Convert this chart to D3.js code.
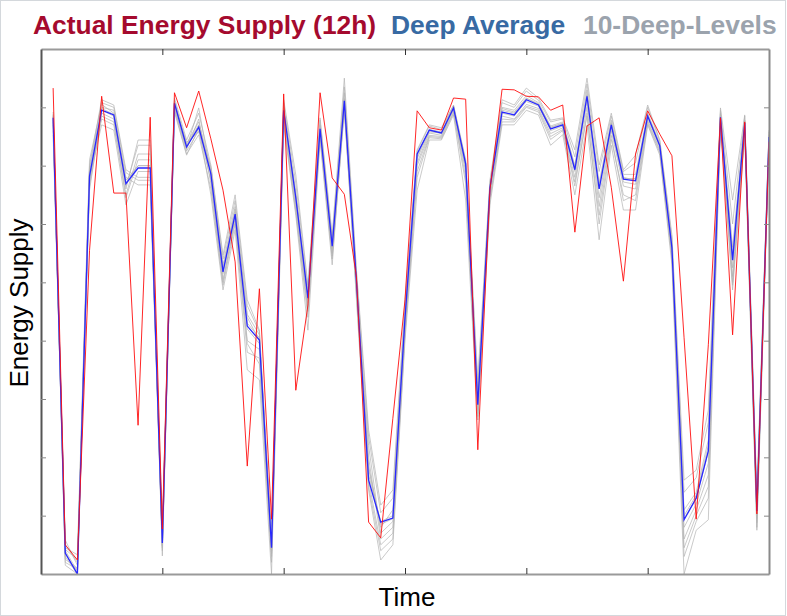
<!DOCTYPE html>
<html><head><meta charset="utf-8">
<script src="https://cdn.jsdelivr.net/npm/d3@7"></script>
<style>body{margin:0;background:#fff}svg{display:block}</style>
</head><body><svg id="c" width="787" height="616"></svg>
<script>
const timeIndex = [1,2,3,4,5,6,7,8,9,10,11,12,13,14,15,16,17,18,19,20,21,22,23,24,25,26,27,28,29,30,31,32,33,34,35,36,37,38,39,40,41,42,43,44,45,46,47,48,49,50,51,52,53,54,55,56,57,58,59,60];
const actualSupply = [833,50,24,555,819,653,653,255,783,77,825,765,828,746,658,535,185,489,94,823,315,461,825,679,651,509,89,62,267,470,794,765,761,816,814,213,658,831,830,819,818,795,804,586,768,782,663,502,720,794,754,717,405,94,393,782,410,775,103,741];
const deepAverage = [782,36,0,682,795,787,669,696,696,53,807,732,766,686,518,617,425,401,45,795,645,473,763,562,811,501,161,89,96,439,720,761,756,799,703,290,662,792,787,813,804,763,770,693,819,660,770,677,674,785,734,559,93,130,211,783,538,773,108,749];
const deepLevel1 = [788,40,5,690,800,795,675,700,700,55,810,735,770,690,520,620,430,405,45,795,645,475,765,565,810,500,170,90,100,440,720,760,755,800,700,295,660,795,790,815,805,765,772,695,820,660,772,680,675,785,735,560,95,130,210,785,540,775,110,750];
const deepLevel2 = [780,30,0,675,790,780,660,744,744,45,800,725,760,675,505,605,400,385,35,785,630,455,755,550,800,490,200,60,80,420,700,752,750,795,690,280,650,785,780,805,798,755,765,680,800,630,760,665,660,778,728,550,60,110,170,778,510,765,95,742];
const deepLevel3 = [775,50,20,700,813,804,693,680,680,70,816,744,790,701,547,650,470,418,58,813,684,495,782,581,850,521,247,118,144,470,727,770,765,804,710,333,675,813,804,833,816,778,782,727,850,701,790,693,718,804,744,581,161,178,281,799,641,787,135,761];
const deepLevel4 = [792,25,10,665,785,775,650,720,720,31,795,720,753,660,495,600,380,370,20,775,620,440,750,540,795,480,150,40,60,410,680,748,746,790,670,270,645,775,775,800,792,745,760,665,790,600,745,650,640,772,722,540,30,90,130,772,495,758,80,738];
const deepLevel5 = [770,45,33,710,805,790,680,667,667,60,805,738,775,695,530,630,445,410,50,800,655,480,770,570,815,505,185,80,110,445,715,762,758,802,705,300,665,800,795,820,808,768,775,700,830,670,778,685,685,790,738,565,110,140,230,790,560,778,115,753];
const deepLevel6 = [784,35,2,680,770,761,633,690,690,50,792,718,765,650,487,590,350,333,0,770,615,418,744,530,805,470,144,24,50,401,658,744,744,787,641,264,633,770,770,795,787,735,753,650,770,573,735,624,624,770,718,530,0,75,93,770,487,753,75,735];
const deepLevel7 = [760,58,15,658,795,785,665,735,735,75,812,730,799,685,515,615,420,395,40,790,640,465,760,558,825,495,220,70,90,430,705,756,752,797,695,290,655,790,785,810,802,760,768,690,810,645,765,672,668,782,732,555,80,120,190,782,525,770,100,746];
const deepLevel8 = [778,20,8,695,808,800,688,675,675,40,808,740,758,698,540,640,460,415,55,808,670,490,778,575,835,515,235,105,130,460,725,768,762,803,708,320,670,808,800,828,812,775,780,715,840,690,785,690,705,800,742,575,140,165,260,795,600,785,130,758];
const deepLevel9 = [753,42,25,685,780,770,645,710,710,58,798,728,780,670,500,610,395,360,30,780,625,450,752,545,798,485,160,50,70,415,690,750,748,792,680,275,640,780,778,802,795,750,762,672,785,615,752,640,650,775,725,545,45,100,150,775,500,760,88,740];
const deepLevel10 = [786,15,0,672,798,788,670,700,700,48,806,733,768,688,525,625,440,400,48,798,650,470,768,562,812,502,180,85,95,438,712,758,756,799,702,298,662,798,792,816,806,766,773,698,822,665,774,678,678,788,736,562,100,135,220,788,550,776,112,751];
const deepLevels = [deepLevel1,deepLevel2,deepLevel3,deepLevel4,deepLevel5,deepLevel6,deepLevel7,deepLevel8,deepLevel9,deepLevel10];
const xTicks = [10,20,30,40,50];
const yTicks = [100,200,300,400,500,600,700,800];
const legendLabels = ["Actual Energy Supply (12h)","Deep Average","10-Deep-Levels"];

const FONT = '"Liberation Sans", Arial, Helvetica, sans-serif';
const svg = d3.select('#c');
const x = d3.scaleLinear().domain([0,60]).range([41,769]);
const y = d3.scaleLinear().domain([0,900]).range([574,49]);

svg.append('rect').attr('x',0.5).attr('y',0.5).attr('width',785).attr('height',615)
  .attr('fill','none').attr('stroke','#d4d8dc').attr('stroke-width',1);

svg.append('defs').append('clipPath').attr('id','clip').append('rect')
  .attr('x',41).attr('y',49).attr('width',728).attr('height',525);

const line = d3.line().x((d,i)=>x(timeIndex[i])).y(d=>y(d));
const g = svg.append('g').attr('clip-path','url(#clip)');
deepLevels.forEach(s=>{
  g.append('path').attr('d',line(s)).attr('fill','none')
   .attr('stroke','#b4b4b4').attr('stroke-width',1).attr('stroke-opacity',0.7);
});
g.append('path').attr('d',line(deepAverage)).attr('fill','none')
  .attr('stroke','#2828ff').attr('stroke-width',1.3);
g.append('path').attr('d',line(actualSupply)).attr('fill','none')
  .attr('stroke','#ff1010').attr('stroke-width',1).attr('stroke-opacity',0.9);

function styleAxis(sel, domainColor, tickColor){
  sel.select('.domain').attr('stroke',domainColor).attr('stroke-width',2);
  sel.selectAll('.tick line').attr('stroke',tickColor).attr('stroke-width',1);
  sel.selectAll('.tick text').remove();
}
svg.append('g').attr('transform','translate(0,574)')
  .call(d3.axisBottom(x).tickValues(xTicks).tickSize(-6).tickSizeOuter(0).tickFormat(''))
  .call(s=>styleAxis(s,'#9a9a9a','#333'));
svg.append('g').attr('transform','translate(0,49)')
  .call(d3.axisTop(x).tickValues(xTicks).tickSize(-6).tickSizeOuter(0).tickFormat(''))
  .call(s=>styleAxis(s,'#9a9a9a','#333'));
svg.append('g').attr('transform','translate(41,0)')
  .call(d3.axisLeft(y).tickValues(yTicks).tickSize(-5).tickSizeOuter(0).tickFormat(''))
  .call(s=>styleAxis(s,'#555','#888'));
svg.append('g').attr('transform','translate(769,0)')
  .call(d3.axisRight(y).tickValues(yTicks).tickSize(-5).tickSizeOuter(0).tickFormat(''))
  .call(s=>styleAxis(s,'#8a8a8a','#888'));

const legendX = [33,391,583];
const legendColors = ['#a50a2e','#386aa3','#9ba3ad'];
legendLabels.forEach((t,i)=>{
  svg.append('text').attr('x',legendX[i]).attr('y',34).text(t)
    .attr('font-family',FONT).attr('font-weight','bold').attr('font-size',26.4)
    .attr('fill',legendColors[i]);
});

svg.append('text').attr('transform','translate(28,303) rotate(-90)')
  .attr('text-anchor','middle').attr('font-family',FONT).attr('font-size',26)
  .attr('fill','#000').text('Energy Supply');
svg.append('text').attr('x',407).attr('y',606).attr('text-anchor','middle')
  .attr('font-family',FONT).attr('font-size',26).attr('fill','#000').text('Time');
</script></body></html>
